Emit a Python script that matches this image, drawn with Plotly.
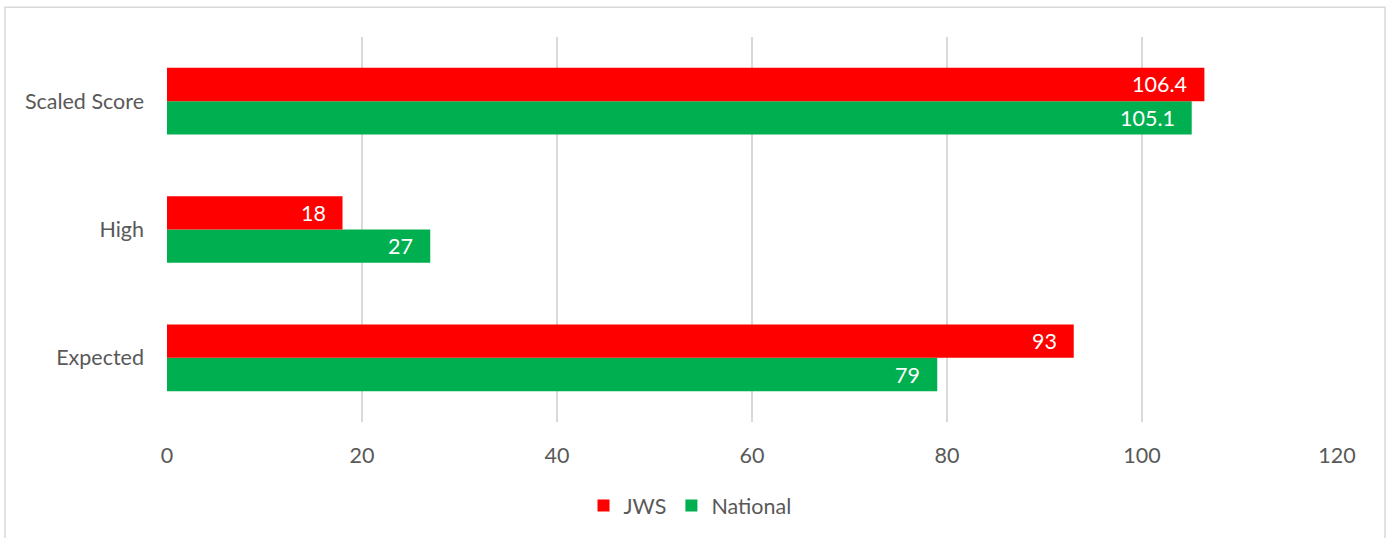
import plotly.graph_objects as go

categories = ["Expected", "High", "Scaled Score"]
jws = [93, 18, 106.4]
national = [79, 27, 105.1]
jws_labels = ["93", "18", "106.4"]
national_labels = ["79", "27", "105.1"]
x_ticks = [0, 20, 40, 60, 80, 100, 120]

FONT = "Lato, Open Sans, sans-serif"
FS = 21.5
W, H = 1391, 538
L, R, T, B = 167, 54, 37, 114
pw, ph = W - L - R, H - T - B
BAR_PX = 33.5

def px_x(p):
    return (p - L) / pw

def px_y(p):
    return (H - B - p) / ph

fig = go.Figure()
fig.add_trace(go.Bar(
    y=categories, x=national, name="National", orientation="h",
    marker=dict(color="#00b050", line=dict(width=0)),
    legendrank=2, hoverinfo="x+name",
))
fig.add_trace(go.Bar(
    y=categories, x=jws, name="JWS", orientation="h",
    marker=dict(color="#ff0000", line=dict(width=0)),
    legendrank=1, hoverinfo="x+name",
))

annotations = []
for vals, labels, shift in ((jws, jws_labels, BAR_PX / 2), (national, national_labels, -BAR_PX / 2)):
    for c, v, t in zip(categories, vals, labels):
        annotations.append(dict(
            x=v, y=c, xref="x", yref="y", text=t, showarrow=False,
            xanchor="right", yanchor="middle", xshift=-15, yshift=shift,
            font=dict(color="white", size=FS, family=FONT),
        ))

fig.update_layout(
    width=W, height=H,
    margin=dict(l=L, r=R, t=T, b=B),
    barmode="group", bargap=0.48, bargroupgap=0,
    plot_bgcolor="white", paper_bgcolor="white",
    font=dict(family=FONT, size=FS, color="#595959"),
    xaxis=dict(range=[0, 120], tickvals=x_ticks, showgrid=True,
               gridcolor="#d9d9d9", gridwidth=1.5, zeroline=False,
               showline=False, ticks="", ticklabelstandoff=18,
               tickfont=dict(size=FS, color="#595959")),
    yaxis=dict(categoryorder="array", categoryarray=categories,
               showgrid=False, showline=False, ticks="", ticklabelstandoff=22,
               tickfont=dict(size=FS, color="#595959")),
    legend=dict(orientation="h", x=px_x(690), xanchor="center",
                y=px_y(508), yanchor="middle",
                font=dict(size=FS, color="#595959"), itemwidth=30),
    annotations=annotations,
    shapes=[dict(type="rect", xref="paper", yref="paper",
                 x0=px_x(5), x1=px_x(1385), y0=px_y(560), y1=px_y(7),
                 line=dict(color="#d9d9d9", width=1.5), layer="below")],
)

fig.write_html("out.html", config={"displayModeBar": False},
               post_script="document.body.style.margin='0';")
